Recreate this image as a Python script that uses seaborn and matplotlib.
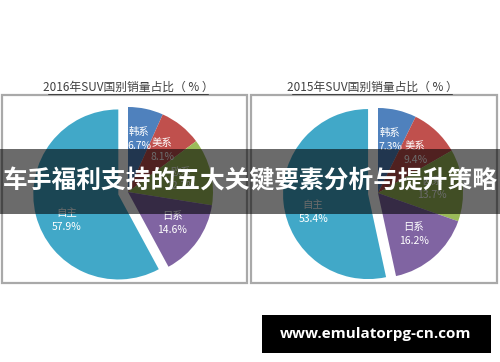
import matplotlib
matplotlib.use("Agg")
import matplotlib.pyplot as plt
import seaborn as sns
import numpy as np
from matplotlib.patches import Rectangle

# ---- data ----
categories = ["韩系", "美系", "欧系", "日系", "自主"]
share_2016 = [6.7, 8.1, 12.7, 14.6, 57.9]
share_2015 = [7.3, 9.4, 13.7, 16.2, 53.4]
title_2016 = "2016年SUV国别销量占比（ % ）"
title_2015 = "2015年SUV国别销量占比（ % ）"
banner_text = "车手福利支持的五大关键要素分析与提升策略"
watermark_text = "www.emulatorpg-cn.com"
colors = ["#4F81BD", "#C0504D", "#9BBB59", "#8064A2", "#41A8C8"]

sns.set_theme(style="white")
plt.rcParams["font.family"] = ["Noto Sans CJK SC", "DejaVu Sans"]

W, H = 500, 362
fig = plt.figure(figsize=(5.0, 3.62), dpi=100)
ax = fig.add_axes([0, 0, 1, 1])
ax.set_xlim(0, W)
ax.set_ylim(0, H)
ax.axis("off")

def Y(y):
    return H - y

def draw_panel(values, title, cx, cy, x0, x1, tx):
    ax.add_patch(Rectangle((x0, Y(283)), x1 - x0, 283 - 95, fill=False,
                           edgecolor="#A9A9A9", lw=1.6, zorder=1))
    ax.text(tx, Y(87), title, ha="center", va="center", fontsize=8.5,
            color="#404040", zorder=3)
    ax.plot([tx - 80, tx + 80], [Y(94), Y(94)], color="#404040", lw=0.7, zorder=3)
    labels_map = iter(categories)
    def fmt(p):
        name = next(labels_map)
        return f"{name}\n{p:.1f}%"
    wedges, texts, autotexts = ax.pie(
        values, colors=colors, startangle=90, counterclock=False,
        center=(cx, Y(cy)), radius=85, explode=[0, 0, 0, 0, 10],
        autopct=fmt, pctdistance=0.64,
        wedgeprops=dict(linewidth=0), frame=True,
        textprops=dict(color="white", fontsize=7.5, linespacing=1.5))
    # nudge the big slice's label a bit lower, as in the reference
    w = wedges[-1]
    mid = np.deg2rad((w.theta1 + w.theta2) / 2 + 12)
    c = w.center
    autotexts[-1].set_position((c[0] + 0.68 * 85 * np.cos(mid),
                                c[1] + 0.68 * 85 * np.sin(mid)))

draw_panel(share_2016, title_2016, 128, 192, 2, 247, 128)
draw_panel(share_2015, title_2015, 378, 193, 251, 497, 372)

ax.set_xlim(0, W)
ax.set_ylim(0, H)
ax.set_aspect("auto")
ax.axis("off")

# banner overlay
ax.add_patch(Rectangle((0, Y(214)), W, 65, facecolor="black", alpha=0.58,
                       edgecolor="none", zorder=10))
ax.text(W / 2, Y(181), banner_text, ha="center", va="center", fontsize=17.8,
        fontweight="bold", color="white", zorder=11)

# watermark
ax.add_patch(Rectangle((262, Y(353)), 229, 38, facecolor="black",
                       edgecolor="none", zorder=10))
ax.text(376, Y(334), watermark_text, ha="center", va="center", fontsize=11,
        fontweight="bold", color="white", family=["Open Sans", "DejaVu Sans"],
        zorder=11)

fig.savefig("out.png", dpi=100)
